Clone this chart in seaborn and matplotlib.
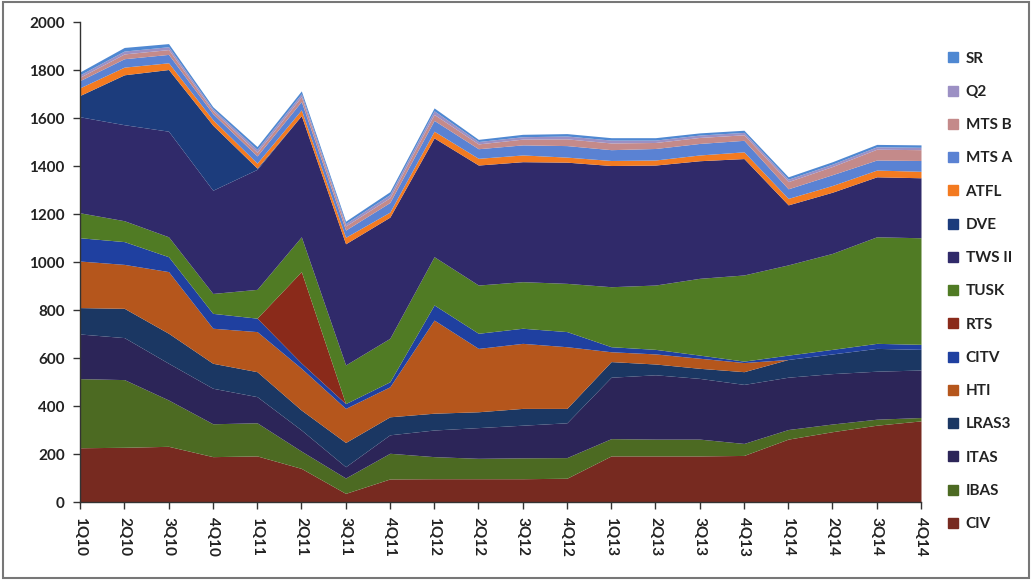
import matplotlib
matplotlib.use("Agg")
import matplotlib.pyplot as plt
from matplotlib.lines import Line2D
from matplotlib.patches import Rectangle
import numpy as np
import seaborn as sns

quarters = ["1Q10", "2Q10", "3Q10", "4Q10", "1Q11", "2Q11", "3Q11", "4Q11",
            "1Q12", "2Q12", "3Q12", "4Q12", "1Q13", "2Q13", "3Q13", "4Q13",
            "1Q14", "2Q14", "3Q14", "4Q14"]

civ   = [226, 228, 232, 189, 192, 140, 36, 96, 97, 97, 97, 99, 192, 192, 192, 194, 262, 293, 320, 338]
ibas  = [288, 282, 193, 137, 138, 72, 64, 107, 92, 85, 87, 86, 72, 70, 70, 50, 40, 32, 25, 14]
itas  = [186, 175, 153, 148, 109, 88, 47, 77, 111, 128, 136, 145, 256, 268, 253, 246, 218, 210, 200, 198]
lras3 = [110, 122, 125, 104, 104, 83, 101, 75, 70, 66, 70, 60, 65, 45, 42, 53, 74, 82, 95, 86]
hti   = [194, 183, 257, 146, 167, 174, 142, 125, 388, 264, 271, 257, 41, 42, 42, 38, 0, 0, 0, 0]
citv  = [97, 95, 62, 62, 56, 22, 20, 21, 63, 63, 63, 63, 21, 19, 13, 6, 18, 19, 21, 21]
rts   = [0, 0, 0, 0, 0, 381, 0, 0, 0, 0, 0, 0, 0, 0, 0, 0, 0, 0, 0, 0]
tusk  = [104, 87, 83, 83, 120, 145, 161, 181, 201, 201, 194, 201, 250, 268, 320, 359, 376, 400, 444, 444]
tws2  = [400, 400, 440, 430, 500, 505, 505, 505, 495, 500, 500, 505, 505, 500, 490, 485, 250, 255, 250, 250]
dve   = [89, 208, 257, 271, 5, 0, 0, 0, 0, 0, 0, 0, 0, 0, 0, 0, 0, 0, 0, 0]
atfl  = [32, 32, 28, 23, 21, 24, 27, 21, 28, 28, 28, 21, 21, 21, 24, 28, 27, 28, 28, 27]
mtsa  = [30, 35, 35, 25, 30, 35, 30, 40, 45, 40, 42, 48, 45, 48, 48, 48, 40, 45, 42, 45]
mtsb  = [14, 20, 20, 12, 15, 20, 17, 20, 25, 20, 24, 28, 28, 25, 25, 23, 30, 34, 45, 45]
q2    = [10, 12, 12, 8, 12, 12, 10, 13, 15, 10, 10, 12, 12, 10, 10, 10, 10, 10, 10, 10]
sr    = [12, 15, 13, 9, 12, 12, 10, 12, 12, 9, 10, 10, 10, 10, 9, 9, 10, 10, 10, 10]

series_names = ["CIV", "IBAS", "ITAS", "LRAS3", "HTI", "CITV", "RTS", "TUSK",
                "TWS II", "DVE", "ATFL", "MTS A", "MTS B", "Q2", "SR"]
series_vals = [civ, ibas, itas, lras3, hti, citv, rts, tusk, tws2, dve, atfl,
               mtsa, mtsb, q2, sr]
colors = ["#772a20", "#4c6a22", "#2c2558", "#1b3763", "#b5561c", "#1f40a0",
          "#8a2a1a", "#507b24", "#302a6a", "#1c3c7c", "#f37a20", "#5a82d3",
          "#c48a8a", "#9c90c4", "#4f88d2"]

sns.set_theme(style="white")
plt.rcParams['font.family'] = ['Lato', 'DejaVu Sans']
palette = sns.color_palette(colors)

fig = plt.figure(figsize=(10.32, 5.80), dpi=100)
ax = fig.add_axes([80 / 1032, 78 / 580, 841 / 1032, 480 / 580])

x = np.arange(len(quarters))
ax.stackplot(x, *[np.array(v, dtype=float) for v in series_vals],
             colors=palette, labels=series_names, linewidth=0)

ax.set_xlim(0, len(quarters) - 1)
ax.set_ylim(0, 2000)
ax.set_yticks(np.arange(0, 2001, 200))
ax.set_xticks(x)
ax.set_xticklabels(quarters, rotation=-90, fontsize=11, fontweight="bold",
                   color="#222222")
for lab in ax.get_yticklabels():
    lab.set_fontsize(11)
    lab.set_fontweight("bold")
    lab.set_color("#222222")

for s in ["top", "right"]:
    ax.spines[s].set_visible(False)
for s in ["left", "bottom"]:
    ax.spines[s].set_color("#333333")
    ax.spines[s].set_linewidth(1.0)
ax.tick_params(axis="both", which="major", direction="out", length=5,
               width=1, color="#333333", bottom=True, left=True, pad=6)
ax.grid(False)

handles = [Line2D([0], [0], marker="s", linestyle="none", markersize=6.5,
                  markerfacecolor=c, markeredgecolor=c) for c in palette]
leg = fig.legend(handles[::-1], series_names[::-1], loc="upper left",
                 bbox_to_anchor=(935 / 1032, 1 - 41 / 580), frameon=False,
                 fontsize=11, labelspacing=1.26, handletextpad=0.3,
                 handlelength=1.0, borderpad=0.2)
for t in leg.get_texts():
    t.set_fontweight("bold")
    t.set_color("#222222")

fig.patches.append(Rectangle((0.003, 0.004), 0.994, 0.992,
                             transform=fig.transFigure, fill=False,
                             edgecolor="#777777", linewidth=1.5))

fig.savefig("out.png", dpi=100, facecolor="white")
